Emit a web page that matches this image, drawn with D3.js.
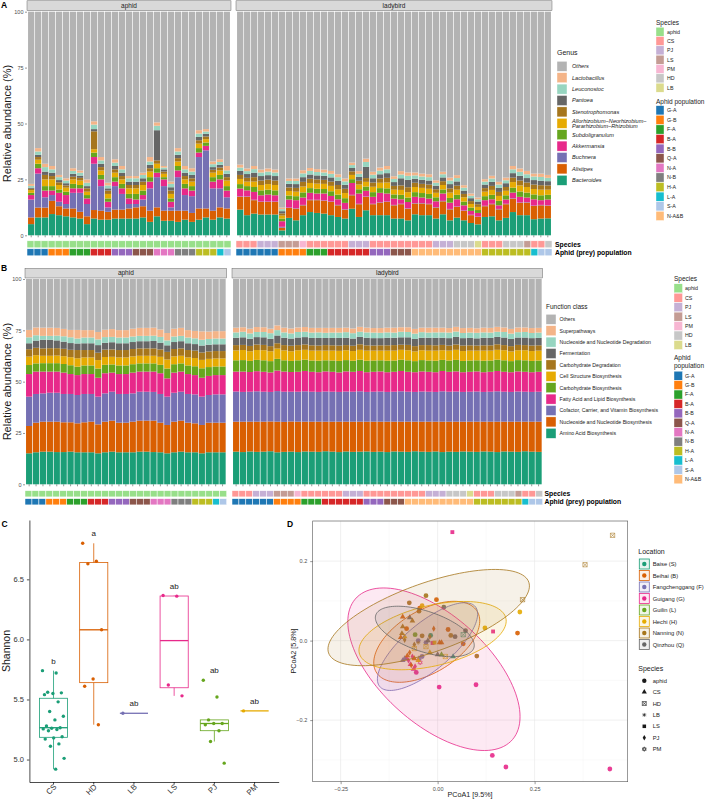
<!DOCTYPE html>
<html>
<head>
<meta charset="utf-8">
<script src="https://cdn.jsdelivr.net/npm/d3@7"></script>
<style>
  body { margin: 0; background: #fff; }
  text { font-family: "Liberation Sans", Arial, sans-serif; }
</style>
</head>
<body>
<svg id="chart" width="709" height="799"></svg>
<script>
// ---------- samples ----------
const aphidPopulation = ["G-A","G-A","G-A","G-B","G-B","G-B","F-A","F-A","F-A","B-A","B-A","B-A","B-B","B-B","B-B",
  "Q-A","Q-A","Q-A","N-A","N-A","N-A","N-B","N-B","N-B","H-A","H-A","H-A","L-A","S-A"];
const ladybirdPopulation = ["G-A","G-A","G-A","G-A","G-A","G-A","G-B","G-B","G-B","G-B","F-A","F-A","F-A",
  "B-A","B-A","B-A","B-A","B-A","B-A","B-B","B-B","B-B","Q-A","Q-A","Q-A",
  "N-A&B","N-A&B","N-A&B","N-A&B","N-A&B","N-A&B","N-A&B","N-A&B","N-A&B","N-A&B",
  "H-A","H-A","H-A","H-A","H-A","H-A","H-A","L-A","S-A","S-A"];
const ladybirdSpecies = ["CS","CS","CS","PJ","PJ","PJ","LS","LS","LS","PM",
  "CS","CS","CS","CS","CS","CS","PJ","PJ","PJ",
  "CS","CS","CS","CS","CS","CS","CS","CS","CS",
  "PJ","PJ","PJ","HD","HD","HD","LB",
  "CS","CS","CS","HD","HD","HD","LS","CS","CS","HD"];

const speciesNames = ["aphid","CS","PJ","LS","PM","HD","LB"];
const speciesColors = ["#98df8a","#ff9896","#c5b0d5","#c49c94","#f7b6d2","#c7c7c7","#dbdb8d"];
const populationNames = ["G-A","G-B","F-A","B-A","B-B","Q-A","N-A","N-B","H-A","L-A","S-A","N-A&B"];
const populationColors = ["#1f77b4","#ff7f0e","#2ca02c","#d62728","#9467bd","#8c564b","#e377c2","#7f7f7f","#bcbd22","#17becf","#aec7e8","#ffbb78"];

// ---------- panel A: genus relative abundance (%), 29 aphids then 45 ladybirds ----------
const bacteroides = [5,8,8,9.5,9,8.5,8,7.5,5,7.5,7,7,7.5,7.5,7.5,7.5,8,6,8.5,6.5,6.5,6,7,6,7,8,7,8,7.5,
  11.5,9,9.7,9.3,9.3,9.3,2.2,7.8,6.7,9,10.4,10,9.7,9,8.2,7.5,11.9,8.2,11.2,9,9,9,7.5,7.5,6.7,9.4,9,9,7.5,9.4,6.7,7.9,6.7,5.5,4.9,8.2,8.5,6.7,7.8,10.4,9,9,7.2,7.5,7.6];
const alistipes = [3,4.4,4.4,5.9,4,3.5,4,3,3.5,3.8,4,3.5,4,4,4.5,5,5,5,4,4.5,4.5,5,4,4,5,4,4,4.5,4.5,
  5.7,8.2,6,5.6,5.6,5.6,1.2,4.4,5.2,4.4,5.3,5.7,5.7,5.9,5.2,4,6,5.7,6,4.9,5.6,5.9,5.9,6.4,5.2,4.8,5.2,4.9,4.9,5.8,4.9,4.8,4.2,3.5,3.3,4.8,5.4,4.9,6.1,6,5.5,5.6,5.9,5.9,5.6];
const buchnera = [8,15.2,4.6,2.6,2,2,7,8.5,5.5,20.7,11,2,10.5,7,2,1.5,3,10,13.5,11,1.5,15,7,7.5,23,26,10,8.5,5,
  0.2,0.2,0.2,0.2,0.2,0.2,0.4,0.2,0.2,0.2,0.2,0.2,0.2,0.2,0.2,0.2,0.2,0.2,0.2,0.2,0.2,0.2,0.2,0.2,0.2,0.2,0.2,0.2,0.2,0.2,0.2,0.2,0.2,0.2,0.2,0.2,0.2,0.2,0.2,0.2,0.2,0.2,0.2,0.2,0.2];
const akkermansia = [2,2.4,3,2,4,4,2,2,2.5,3,3,2.5,2,2.5,2.5,2,2,3,2,3,2.5,3,3,2.5,2,2,3,4,3,
  3.5,2.7,3.5,2.8,3.1,2.8,2.5,3.6,3.6,3.3,3.1,2.8,3.1,2.5,2.5,2.8,5.3,4.6,2.5,3.1,4.2,3.6,2.8,2.0,2.8,2.8,2.5,2.3,2.6,3.3,2.8,3.2,2.3,1.7,1.6,2.5,2.0,1.6,1.9,2.5,2.5,2.1,2.8,2.1,2.6];
const subdoligranulum = [1,2,2,2,1.5,1.5,2,1.5,1.5,2,2,1.5,2,2,2,2.5,2,2,2,1,1.5,2,2,2,2,1.5,2,2,2,
  2.0,1.9,2.2,2.2,2.2,2.2,1.2,1.8,1.8,2.3,2.1,2.1,2.0,2.1,2.1,2.1,1.7,1.9,1.9,2.1,2.1,2.3,1.9,2.0,2.0,2.1,2.0,2.1,1.8,1.8,2.1,2.0,1.7,1.5,1.3,1.8,2.0,2.0,1.9,2.2,2.4,2.2,2.2,2.2,2.1];
const allorhizobium = [1.2,1.8,3,3,2,1.8,2,2,1.5,1.5,2,2,2,2,2.5,2.5,2.5,2.5,2,1.5,2,2,2,2,2,1.5,2,2,2.5,
  2.3,2.0,2.4,2.4,2.5,2.4,1.3,2.0,2.0,2.6,2.3,2.3,2.3,2.4,2.4,2.3,1.9,2.1,2.1,2.4,2.4,2.6,2.1,2.2,2.4,2.3,2.3,2.3,2.0,2.0,2.4,2.3,1.9,1.6,1.4,2.0,2.2,2.2,2.0,2.5,2.7,2.5,2.4,2.5,2.3];
const stenotrophomonas = [0.6,1.2,2,1.5,1.2,1,1.2,1.2,1.5,8,1.5,1.5,1.5,1.5,1.5,1.5,1.5,1.5,1.5,1,1.5,1.5,1.5,1.5,1.5,1.2,1.3,1.3,1.5,
  1.8,1.7,2.0,2.0,2.0,2.0,1.0,1.6,1.7,2.1,1.9,1.9,1.8,1.9,1.9,1.9,1.6,1.7,1.7,1.9,1.9,2.1,1.7,2.0,2.2,1.9,1.8,1.9,1.6,1.7,1.9,1.8,1.5,1.3,1.2,1.6,1.8,1.8,1.7,2.0,2.2,2.0,2.0,2.0,1.9];
const pantoea = [0.5,1,1.5,1.5,1,1,1.3,1,1,1,1.5,1,1.5,1.5,1.5,1.5,1.5,1.5,13.5,1,1.5,1.5,1.5,1.5,1.5,1.2,1.2,1.2,1.5,
  1.8,1.7,2.0,2.0,2.0,2.0,1.0,1.6,1.7,2.1,1.9,1.8,1.8,1.9,1.9,1.8,1.5,1.7,5.0,1.9,1.9,2.1,1.7,3.2,3.3,1.8,1.8,1.8,1.6,1.7,1.9,1.9,1.5,1.3,1.2,1.6,1.8,1.8,1.7,2.0,2.1,2.0,2.0,2.0,1.9];
const leuconostoc = [0.8,1.5,2,1.5,1.3,1.2,1.3,1.3,1.5,2,1.5,1.3,1.5,1.5,1.5,1.5,1.5,1.5,2,0.8,1.5,1.5,1.5,1.5,1.5,1,1.3,1.3,1.5,
  1.5,1.3,1.6,1.6,1.6,1.6,0.9,1.3,1.4,1.7,1.6,1.5,1.5,1.6,1.6,1.5,1.3,1.4,2.2,1.6,1.6,1.7,1.4,1.7,1.8,1.5,1.5,1.5,1.3,1.4,1.6,1.5,1.3,1.1,1.0,1.3,1.5,1.5,1.3,1.7,1.8,1.7,1.6,1.7,1.5];
const lactobacillus = [0.9,1.5,1.5,1.5,1,1,1.2,1,1.5,1.5,1.5,1.2,1.5,1.5,1,1,1,2,1.5,0.7,1,1.5,1.5,1.5,1.5,1.1,1.2,1.2,2,
  1.3,1.2,1.4,1.3,1.4,1.3,0.7,1.1,1.1,1.4,1.3,1.3,1.3,1.3,1.3,1.3,1.1,1.2,1.5,1.3,1.4,1.5,1.2,1.5,1.5,1.3,1.3,1.3,1.1,1.1,1.3,1.3,1.1,1.0,0.8,1.1,1.2,1.2,1.2,1.5,1.5,1.5,1.3,1.5,1.3];

// ---------- panel B: function class relative abundance (%) ----------
const aminoAcid = [15.1,15.6,15.9,15.9,15.7,15.7,15.9,15.6,15.6,15.6,15.1,15.6,15.9,15.6,15.6,15.6,15.9,15.9,15.7,15.6,15.1,15.6,15.9,15.6,15.6,15.1,15.6,15.6,15.6,
  15.9,15.7,16.0,15.8,15.9,16.1,15.6,15.8,15.9,15.7,16.0,15.9,15.8,16.1,15.9,15.7,16.0,15.8,15.9,16.0,15.8,15.9,15.7,16.0,15.9,15.8,16.1,15.9,15.8,16.0,15.7,15.9,15.8,16.0,15.9,15.8,16.0,15.9,15.7,16.0,15.9,15.8,16.1,15.9,15.8];
const nucleoBio = [13.3,14.4,14.6,14.6,14.8,14.5,14.3,14.1,14.6,14.9,14.1,14.9,15.1,14.4,14.4,14.9,15.1,15.1,15.3,14.4,13.8,14.9,15.1,14.4,14.1,13.8,14.4,14.4,14.4,
  14.6,14.8,14.5,14.7,14.6,14.5,14.9,14.6,14.7,14.8,14.5,14.6,14.7,14.4,14.6,14.8,14.5,14.7,14.6,14.5,14.7,14.6,14.8,14.5,14.6,14.7,14.4,14.6,14.7,14.5,14.8,14.6,14.7,14.5,14.6,14.7,14.5,14.6,14.8,14.5,14.6,14.7,14.4,14.6,14.7];
const cofactor = [14.3,14.0,13.8,14.1,14.1,13.8,13.8,13.8,13.8,13.5,13.5,13.8,14.1,14.0,14.0,13.8,14.1,14.1,14.0,14.0,13.8,14.1,14.1,14.0,14.1,13.8,13.5,13.8,13.8,
  14.7,14.5,14.6,14.8,14.6,14.4,14.9,14.7,14.5,14.6,14.8,14.6,14.5,14.7,14.6,14.5,14.7,14.6,14.8,14.5,14.6,14.7,14.5,14.6,14.8,14.6,14.5,14.7,14.6,14.5,14.8,14.6,14.7,14.5,14.6,14.7,14.5,14.6,14.8,14.6,14.5,14.7,14.6,14.5,14.6];
const fattyAcid = [11.0,10.9,10.6,10.3,10.3,10.4,9.7,9.7,9.7,9.7,9.2,9.8,9.3,9.7,9.7,10.1,9.8,9.8,9.9,10.1,8.9,9.8,9.8,9.7,9.4,9.2,9.3,9.4,9.4,
  9.7,9.9,9.6,9.8,9.7,9.5,10.0,9.8,9.6,9.7,9.9,9.7,9.6,9.8,9.7,9.5,9.8,9.7,9.9,9.6,9.7,9.8,9.6,9.7,9.9,9.7,9.6,9.8,9.7,9.6,9.9,9.7,9.8,9.6,9.7,9.8,9.6,9.7,9.9,9.7,9.6,9.8,9.7,9.6,9.7];
const carbBio = [4.4,4.0,4.1,4.1,4.1,4.2,4.3,4.1,4.2,4.2,4.5,4.1,4.0,4.2,4.2,4.1,4.0,4.0,4.0,4.1,4.8,4.1,4.0,4.2,4.3,4.6,4.3,4.2,4.2,
  5.5,5.6,5.4,5.5,5.6,5.5,5.7,5.5,5.4,5.6,5.5,5.5,5.6,5.4,5.5,5.6,5.5,5.4,5.5,5.6,5.5,5.4,5.6,5.5,5.5,5.6,5.4,5.5,5.5,5.6,5.4,5.5,5.6,5.5,5.5,5.4,5.6,5.5,5.5,5.6,5.4,5.5,5.6,5.5,5.5];
const cellStructure = [4.1,4.0,3.6,3.6,3.7,3.8,3.9,4.1,3.9,3.9,4.1,3.8,3.7,3.9,3.9,3.8,3.7,3.7,3.7,3.9,4.4,3.8,3.7,3.9,4.0,4.1,4.0,3.9,3.9,
  4.8,4.9,4.7,4.8,4.9,4.8,5.0,4.8,4.7,4.9,4.8,4.8,4.9,4.7,4.8,4.9,4.8,4.7,4.8,4.9,4.8,4.7,4.9,4.8,4.8,4.9,4.7,4.8,4.8,4.9,4.7,4.8,4.9,4.8,4.8,4.7,4.9,4.8,4.8,4.9,4.7,4.8,4.9,4.8,4.8];
const carbDegradation = [3.6,3.6,3.6,3.7,3.6,3.6,3.6,4.0,3.6,3.6,3.6,3.6,3.6,3.6,3.6,3.6,3.6,3.6,3.6,3.6,3.7,3.6,3.6,3.6,3.6,3.6,3.6,3.6,3.6,
  2.6,2.5,2.6,2.7,2.6,2.5,2.6,2.6,2.7,2.5,2.6,2.6,2.5,2.7,2.6,2.6,2.5,2.6,2.7,2.6,2.5,2.6,2.6,2.7,2.5,2.6,2.6,2.5,2.7,2.6,2.6,2.5,2.6,2.7,2.6,2.5,2.6,2.6,2.7,2.5,2.6,2.6,2.5,2.7,2.6];
const fermentation = [2.9,3.5,4.2,4.1,3.8,3.5,3.3,3.2,3.3,3.3,3.7,3.3,3.5,3.3,3.3,3.4,3.5,3.5,3.6,3.3,3.2,3.4,3.5,3.3,3.2,3.4,3.3,3.3,3.3,
  3.6,3.7,3.5,3.6,3.7,3.6,3.8,3.6,3.5,3.7,3.6,3.6,3.7,3.5,3.6,3.7,3.6,3.5,3.6,3.7,3.6,3.5,3.7,3.6,3.6,3.7,3.5,3.6,3.6,3.7,3.5,3.6,3.7,3.6,3.6,3.5,3.7,3.6,3.6,3.7,3.5,3.6,3.7,3.6,3.6];
const nucleoDegradation = [2.9,2.6,1.9,1.9,2.3,2.6,2.8,2.4,2.8,2.8,2.8,2.8,2.6,2.8,2.8,2.7,2.6,2.6,2.6,2.8,2.4,2.7,2.6,2.8,2.8,2.8,2.8,2.8,2.8,
  2.6,2.7,2.6,2.5,2.6,2.7,2.6,2.6,2.5,2.7,2.6,2.6,2.7,2.5,2.6,2.6,2.7,2.6,2.5,2.6,2.7,2.6,2.6,2.5,2.7,2.6,2.6,2.7,2.5,2.6,2.6,2.7,2.6,2.5,2.6,2.7,2.6,2.6,2.5,2.7,2.6,2.6,2.7,2.5,2.6];
const superpathways = [3.6,3.8,4.0,4.0,3.8,3.6,3.6,4.2,3.6,3.6,3.6,3.6,3.8,3.6,3.6,3.8,3.9,3.9,3.9,3.6,3.6,3.8,3.9,3.6,3.6,4.1,3.6,3.6,3.6,
  2.3,2.2,2.3,2.4,2.3,2.2,2.3,2.3,2.4,2.2,2.3,2.3,2.2,2.4,2.3,2.3,2.2,2.3,2.4,2.3,2.2,2.3,2.3,2.4,2.2,2.3,2.3,2.2,2.4,2.3,2.3,2.2,2.3,2.4,2.3,2.2,2.3,2.3,2.4,2.2,2.3,2.3,2.2,2.4,2.3];

// ---------- panel C: Shannon index per ladybird species ----------
const shannonSpecies = ["CS","HD","LB","LS","PJ","PM"];
const shannonCS = [5.74,5.72,5.56,5.555,5.55,5.54,5.48,5.40,5.36,5.33,5.28,5.265,5.26,5.255,5.25,5.24,5.19,5.18,5.17,5.13,5.11,5.01,4.92];
const shannonHD = [6.80,6.65,6.63,6.08,5.67,5.61,5.29];
const shannonLB = [5.385];
const shannonLS = [6.365,6.36,5.62,5.53];
const shannonPJ = [5.66,5.52,5.33,5.30,5.30,5.29,5.24,5.15,4.97];
const shannonPM = [5.405];
const shannonLetters = ["b","a","ab","ab","ab","ab"];

// ---------- panel D: PCoA scores, same sample order as panels A/B ----------
const pcoa1 = [0.004,0.099,-0.055,0.141,0.176,0.444,-0.030,-0.050,-0.040,0.206,-0.003,-0.046,0.027,0.066,-0.080,
  0.016,0.072,0.045,-0.030,-0.073,-0.048,0.101,0.034,-0.040,0.212,0.122,-0.040,-0.058,-0.018,
  -0.080,-0.070,-0.062,-0.075,-0.058,-0.065,0.038,0.143,-0.013,-0.045,-0.090,-0.085,-0.048,0.005,-0.078,-0.090,
  -0.068,-0.072,-0.010,-0.095,0.010,-0.060,0.000,-0.072,-0.025,-0.090,-0.092,-0.065,-0.085,-0.060,-0.020,
  0.451,0.380,0.219,-0.050,-0.085,-0.050,-0.020,-0.030,0.020,-0.060,-0.008,0.010,0.040,0.066];
const pcoa2 = [-0.117,-0.111,-0.080,-0.289,-0.318,-0.323,-0.005,0.000,-0.040,0.019,0.103,0.082,0.028,-0.008,0.030,
  0.084,0.025,0.010,0.113,0.095,0.074,-0.039,0.013,0.012,0.072,0.032,0.088,0.015,0.013,
  -0.045,-0.060,-0.072,-0.050,-0.065,-0.040,0.273,0.023,-0.006,-0.055,-0.050,-0.045,-0.045,-0.005,-0.038,0.060,
  -0.062,-0.030,0.030,0.008,-0.005,-0.045,-0.035,0.058,0.000,0.035,0.018,0.050,0.002,-0.010,0.010,
  0.265,0.191,0.103,-0.005,0.010,-0.050,-0.030,-0.015,-0.040,-0.020,-0.005,-0.035,-0.040,0.015];
const locationNames = ["Baise (S)","Beihai (B)","Fangchenggang (F)","Guigang (G)","Guilin (L)","Hechi (H)","Nanning (N)","Qinzhou (Q)"];
const locationColors = ["#1b9e77","#d95f02","#7570b3","#e7298a","#66a61e","#e6ab02","#a6761d","#666666"];
const locationCode = { S: "Baise (S)", B: "Beihai (B)", F: "Fangchenggang (F)", G: "Guigang (G)", L: "Guilin (L)", H: "Hechi (H)", N: "Nanning (N)", Q: "Qinzhou (Q)" };
const shapeLegendOrder = ["aphid","CS","HD","LB","LS","PJ","PM"];
// 95% ellipses: centre, semi-axes, rotation (deg)
const ellipseLocation = ["Beihai (B)","Fangchenggang (F)","Guigang (G)","Hechi (H)","Nanning (N)","Qinzhou (Q)"];
const ellipseCx = [-0.028,-0.026,-0.0095,-0.013,-0.023,-0.033];
const ellipseCy = [-0.003,-0.015,-0.072,0.0126,0.058,0.023];
const ellipseMajor = [0.151,0.159,0.269,0.194,0.273,0.133];
const ellipseMinor = [0.079,0.060,0.137,0.076,0.087,0.051];
const ellipseAngle = [30,39,-41,13,19,-18];

// ---------- build ----------
const samples = aphidPopulation.map(p => ({ group: "aphid", species: "aphid", population: p }))
  .concat(ladybirdPopulation.map((p, i) => ({ group: "ladybird", species: ladybirdSpecies[i], population: p })))
  .map((d, i) => ({ ...d, idx: i }));

const svg = d3.select("#chart");
const speciesColor = d3.scaleOrdinal(speciesNames, speciesColors);
const populationColor = d3.scaleOrdinal(populationNames, populationColors);
const locationColor = d3.scaleOrdinal(locationNames, locationColors);

function panelLabel(x, y, t) {
  svg.append("text").attr("x", x).attr("y", y).attr("font-size", 8.5).attr("font-weight", "bold").text(t);
}

function keyLegend(o) {
  const g = svg.append("g");
  o.title.forEach((t, i) => g.append("text").attr("x", o.x).attr("y", o.titleY + i * 8.5)
    .attr("font-size", o.titleSize).attr("fill", "#1a1a1a").text(t));
  o.items.forEach((it, i) => {
    const cy = o.y0 + i * o.step;
    g.append("rect").attr("x", o.x).attr("y", cy - o.h / 2).attr("width", o.w).attr("height", o.h)
      .attr("fill", it.color).attr("stroke", "#fff").attr("stroke-width", 0.4);
    const lines = [].concat(it.label);
    const t = g.append("text").attr("x", o.x + o.w + o.gap).attr("font-size", o.fs).attr("fill", "#1a1a1a")
      .attr("font-style", o.italic ? "italic" : null);
    lines.forEach((l, k) => t.append("tspan").attr("x", o.x + o.w + o.gap)
      .attr("y", cy + (k - (lines.length - 1) / 2) * o.fs * 0.95).attr("dy", "0.35em").text(l));
  });
}

function stackPanel(o) {
  const g = svg.append("g");
  const keys = o.layers.map(l => l.name).concat("Others");
  const color = d3.scaleOrdinal(keys, o.layers.map(l => l.color).concat("#b3b3b3"));
  const rows = samples.map(s => {
    const r = { idx: s.idx };
    let total = 0;
    o.layers.forEach(l => { r[l.name] = l.values[s.idx]; total += l.values[s.idx]; });
    r.Others = Math.max(0, 100 - total);
    return r;
  });
  const series = d3.stack().keys(keys)(rows);
  const y = d3.scaleLinear([0, 100], [o.bottom, o.top]);

  o.facets.forEach(f => {
    const ids = samples.filter(s => s.group === f.name).map(s => s.idx);
    const x = d3.scaleBand(ids, [f.x0, f.x1]).paddingInner(0.1).paddingOuter(0.15);
    const tile = d3.scaleBand(ids, [f.x0, f.x1]);
    g.append("rect").attr("x", f.x0).attr("y", o.stripTop).attr("width", f.x1 - f.x0)
      .attr("height", o.top - o.stripTop - 1).attr("fill", "#d9d9d9").attr("stroke", "#4d4d4d").attr("stroke-width", 0.4);
    g.append("text").attr("x", (f.x0 + f.x1) / 2).attr("y", (o.stripTop + o.top - 1) / 2).attr("dy", "0.35em")
      .attr("text-anchor", "middle").attr("font-size", 6.5).attr("fill", "#1a1a1a").text(f.name);
    series.forEach(s => {
      g.append("g").attr("fill", color(s.key)).selectAll("rect")
        .data(s.filter(d => ids.includes(d.data.idx))).join("rect")
        .attr("x", d => x(d.data.idx)).attr("width", x.bandwidth())
        .attr("y", d => y(d[1])).attr("height", d => Math.max(0, y(d[0]) - y(d[1])));
    });
    g.append("g").selectAll("line").data(ids).join("line")
      .attr("x1", d => x(d) + x.bandwidth() / 2).attr("x2", d => x(d) + x.bandwidth() / 2)
      .attr("y1", o.bottom).attr("y2", o.bottom + 2).attr("stroke", "#333").attr("stroke-width", 0.5);
    g.append("g").selectAll("rect").data(ids).join("rect")
      .attr("x", d => tile(d)).attr("width", tile.bandwidth()).attr("y", o.speciesY).attr("height", o.tileH)
      .attr("fill", d => speciesColor(samples[d].species)).attr("stroke", "#fff").attr("stroke-width", 0.5);
    g.append("g").selectAll("rect").data(ids).join("rect")
      .attr("x", d => tile(d)).attr("width", tile.bandwidth()).attr("y", o.popY).attr("height", o.tileH)
      .attr("fill", d => populationColor(samples[d].population)).attr("stroke", "#fff").attr("stroke-width", 0.5);
  });

  const ax = g.append("g").attr("transform", `translate(${o.facets[0].x0},0)`)
    .call(d3.axisLeft(y).tickValues([0, 25, 50, 75, 100]).tickSize(2).tickPadding(1.5));
  ax.select(".domain").remove();
  ax.selectAll("line").attr("stroke", "#333").attr("stroke-width", 0.5);
  ax.selectAll("text").attr("font-size", 5.5).attr("fill", "#4d4d4d").attr("font-family", "Liberation Sans, Arial, sans-serif");

  g.append("text").attr("transform", `translate(11,${(o.top + o.bottom) / 2}) rotate(-90)`)
    .attr("text-anchor", "middle").attr("font-size", 11).attr("fill", "#1a1a1a").text("Relative abundance (%)");
  g.append("text").attr("x", o.rowLabelX).attr("y", o.speciesY + o.tileH / 2).attr("dy", "0.35em")
    .attr("font-size", 6.8).attr("font-weight", "bold").text("Species");
  g.append("text").attr("x", o.rowLabelX).attr("y", o.popY + o.tileH / 2).attr("dy", "0.35em")
    .attr("font-size", 6.8).attr("font-weight", "bold").text("Aphid (prey) population");
}

// ---------- panel A ----------
panelLabel(1, 8, "A");
stackPanel({
  stripTop: 0.8, top: 11.7, bottom: 235.3,
  facets: [{ name: "aphid", x0: 27, x1: 231 }, { name: "ladybird", x0: 236, x1: 552 }],
  speciesY: 240.8, popY: 248.8, tileH: 7, rowLabelX: 555,
  layers: [
    { name: "Bacteroides", values: bacteroides, color: "#1b9e77" },
    { name: "Alistipes", values: alistipes, color: "#d95f02" },
    { name: "Buchnera", values: buchnera, color: "#7570b3" },
    { name: "Akkermansia", values: akkermansia, color: "#e7298a" },
    { name: "Subdoligranulum", values: subdoligranulum, color: "#66a61e" },
    { name: "Allorhizobium", values: allorhizobium, color: "#e6ab02" },
    { name: "Stenotrophomonas", values: stenotrophomonas, color: "#a6761d" },
    { name: "Pantoea", values: pantoea, color: "#666666" },
    { name: "Leuconostoc", values: leuconostoc, color: "#97d5c0" },
    { name: "Lactobacillus", values: lactobacillus, color: "#f4b488" }
  ]
});
keyLegend({
  x: 557, titleY: 55, title: ["Genus"], titleSize: 7, y0: 66.3, step: 11.4, w: 10, h: 10, gap: 5, fs: 5.6, italic: true,
  items: [
    { label: "Others", color: "#b3b3b3" }, { label: "Lactobacillus", color: "#f4b488" },
    { label: "Leuconostoc", color: "#97d5c0" }, { label: "Pantoea", color: "#666666" },
    { label: "Stenotrophomonas", color: "#a6761d" },
    { label: ["Allorhizobium−Neorhizobium−", "Pararhizobium−Rhizobium"], color: "#e6ab02" },
    { label: "Subdoligranulum", color: "#66a61e" }, { label: "Akkermansia", color: "#e7298a" },
    { label: "Buchnera", color: "#7570b3" }, { label: "Alistipes", color: "#d95f02" },
    { label: "Bacteroides", color: "#1b9e77" }
  ]
});
keyLegend({ x: 656, titleY: 24.5, title: ["Species"], titleSize: 6.5, y0: 31.7, step: 9.33, w: 8, h: 9, gap: 3, fs: 5.3,
  items: speciesNames.map((s, i) => ({ label: s, color: speciesColors[i] })) });
keyLegend({ x: 656, titleY: 103.5, title: ["Aphid population"], titleSize: 6.5, y0: 110.3, step: 9.6, w: 8, h: 9.2, gap: 3, fs: 5.3,
  items: populationNames.map((s, i) => ({ label: s, color: populationColors[i] })) });

// ---------- panel B ----------
panelLabel(1, 271, "B");
stackPanel({
  stripTop: 268.3, top: 279, bottom: 484.3,
  facets: [{ name: "aphid", x0: 25, x1: 226.7 }, { name: "ladybird", x0: 232, x1: 542.7 }],
  speciesY: 490.7, popY: 498.7, tileH: 6.2, rowLabelX: 544.5,
  layers: [
    { name: "Amino Acid Biosynthesis", values: aminoAcid, color: "#1b9e77" },
    { name: "Nucleoside and Nucleotide Biosynthesis", values: nucleoBio, color: "#d95f02" },
    { name: "Cofactor, Carrier, and Vitamin Biosynthesis", values: cofactor, color: "#7570b3" },
    { name: "Fatty Acid and Lipid Biosynthesis", values: fattyAcid, color: "#e7298a" },
    { name: "Carbohydrate Biosynthesis", values: carbBio, color: "#66a61e" },
    { name: "Cell Structure Biosynthesis", values: cellStructure, color: "#e6ab02" },
    { name: "Carbohydrate Degradation", values: carbDegradation, color: "#a6761d" },
    { name: "Fermentation", values: fermentation, color: "#666666" },
    { name: "Nucleoside and Nucleotide Degradation", values: nucleoDegradation, color: "#97d5c0" },
    { name: "Superpathways", values: superpathways, color: "#f4b488" }
  ]
});
keyLegend({
  x: 546, titleY: 309, title: ["Function class"], titleSize: 6.5, y0: 319.3, step: 11.4, w: 10, h: 10, gap: 3.5, fs: 5.2,
  items: [
    { label: "Others", color: "#b3b3b3" }, { label: "Superpathways", color: "#f4b488" },
    { label: "Nucleoside and Nucleotide Degradation", color: "#97d5c0" }, { label: "Fermentation", color: "#666666" },
    { label: "Carbohydrate Degradation", color: "#a6761d" }, { label: "Cell Structure Biosynthesis", color: "#e6ab02" },
    { label: "Carbohydrate Biosynthesis", color: "#66a61e" }, { label: "Fatty Acid and Lipid Biosynthesis", color: "#e7298a" },
    { label: "Cofactor, Carrier, and Vitamin Biosynthesis", color: "#7570b3" },
    { label: "Nucleoside and Nucleotide Biosynthesis", color: "#d95f02" }, { label: "Amino Acid Biosynthesis", color: "#1b9e77" }
  ]
});
keyLegend({ x: 674, titleY: 281, title: ["Species"], titleSize: 6.5, y0: 288.3, step: 9.45, w: 8.5, h: 9, gap: 2.5, fs: 5.3,
  items: speciesNames.map((s, i) => ({ label: s, color: speciesColors[i] })) });
keyLegend({ x: 674, titleY: 359.5, title: ["Aphid", "population"], titleSize: 6.5, y0: 375.7, step: 9.42, w: 8.5, h: 9, gap: 2.5, fs: 5.3,
  items: populationNames.map((s, i) => ({ label: s, color: populationColors[i] })) });

// ---------- panel C ----------
panelLabel(1.5, 527, "C");
const shannonValues = [shannonCS, shannonHD, shannonLB, shannonLS, shannonPJ, shannonPM];
const shannonColor = d3.scaleOrdinal(shannonSpecies, ["#1b9e77","#d95f02","#7570b3","#e7298a","#66a61e","#e6ab02"]);
const xC = d3.scaleBand(shannonSpecies, [29.4, 278.7]).paddingOuter(0.1);
const yC = d3.scaleLinear([4.813, 6.994], [782, 520]);
const gC = svg.append("g");
shannonSpecies.forEach((sp, k) => {
  const vals = shannonValues[k].slice().sort(d3.ascending);
  const q1 = d3.quantile(vals, 0.25), med = d3.quantile(vals, 0.5), q3 = d3.quantile(vals, 0.75);
  const iqr = q3 - q1;
  const lo = d3.min(vals.filter(v => v >= q1 - 1.5 * iqr));
  const hi = d3.max(vals.filter(v => v <= q3 + 1.5 * iqr));
  const cx = xC(sp) + xC.bandwidth() / 2, bw = xC.bandwidth() * 0.7;
  const c = shannonColor(sp);
  const bg = gC.append("g").attr("stroke", c).attr("fill", "none");
  bg.append("line").attr("x1", cx).attr("x2", cx).attr("y1", yC(q3)).attr("y2", yC(hi)).attr("stroke-width", 0.8);
  bg.append("line").attr("x1", cx).attr("x2", cx).attr("y1", yC(q1)).attr("y2", yC(lo)).attr("stroke-width", 0.8);
  bg.append("rect").attr("x", cx - bw / 2).attr("width", bw).attr("y", yC(q3))
    .attr("height", Math.max(0, yC(q1) - yC(q3))).attr("stroke-width", 0.8);
  bg.append("line").attr("x1", cx - bw / 2).attr("x2", cx + bw / 2).attr("y1", yC(med)).attr("y2", yC(med)).attr("stroke-width", 1.3);
  gC.append("g").attr("fill", c).selectAll("circle").data(shannonValues[k]).join("circle")
    .attr("cx", (d, i) => cx + (((i * 0.618034) % 1) - 0.5) * 0.55 * xC.bandwidth())
    .attr("cy", d => yC(d)).attr("r", 1.7);
  gC.append("text").attr("x", cx).attr("y", yC(d3.max(vals)) - 7).attr("text-anchor", "middle")
    .attr("font-size", 8).attr("fill", "#1a1a1a").text(shannonLetters[k]);
});
const axYC = gC.append("g").attr("transform", "translate(29.4,0)")
  .call(d3.axisLeft(yC).tickValues([5, 5.5, 6, 6.5]).tickFormat(d3.format(".1f")).tickSize(2.5).tickSizeOuter(0));
const axXC = gC.append("g").attr("transform", "translate(0,782)")
  .call(d3.axisBottom(xC).tickSize(2.5).tickSizeOuter(0));
[axYC, axXC].forEach(a => {
  a.selectAll("path, line").attr("stroke", "#000").attr("stroke-width", 0.7);
  a.selectAll("text").attr("font-family", "Liberation Sans, Arial, sans-serif").attr("fill", "#333");
});
axYC.selectAll("text").attr("font-size", 7.5);
axXC.selectAll("text").attr("font-size", 7.8).attr("text-anchor", "end").attr("y", 0).attr("dy", "0.35em")
  .attr("transform", "translate(1.5,3.5) rotate(-45)");
gC.append("text").attr("transform", "translate(10,651) rotate(-90)").attr("text-anchor", "middle")
  .attr("font-size", 10.5).attr("fill", "#1a1a1a").text("Shannon");

// ---------- panel D ----------
panelLabel(287, 527, "D");
const xD = d3.scaleLinear([-0.322, 0.49], [312.7, 627.7]);
const yD = d3.scaleLinear([-0.355, 0.301], [781.7, 521]);
const gD = svg.append("g");
gD.append("rect").attr("x", 312.7).attr("y", 521).attr("width", 315).attr("height", 260.7).attr("fill", "#fff");
gD.append("g").selectAll("line").data([-0.125, 0.125, 0.375]).join("line")
  .attr("x1", d => xD(d)).attr("x2", d => xD(d)).attr("y1", 521).attr("y2", 781.7).attr("stroke", "#f2f2f2").attr("stroke-width", 0.4);
gD.append("g").selectAll("line").data([-0.3, -0.1, 0.1, 0.3]).join("line")
  .attr("y1", d => yD(d)).attr("y2", d => yD(d)).attr("x1", 312.7).attr("x2", 627.7).attr("stroke", "#f2f2f2").attr("stroke-width", 0.4);
gD.append("g").selectAll("line").data([-0.25, 0, 0.25]).join("line")
  .attr("x1", d => xD(d)).attr("x2", d => xD(d)).attr("y1", 521).attr("y2", 781.7).attr("stroke", "#e6e6e6").attr("stroke-width", 0.6);
gD.append("g").selectAll("line").data([-0.2, 0, 0.2]).join("line")
  .attr("y1", d => yD(d)).attr("y2", d => yD(d)).attr("x1", 312.7).attr("x2", 627.7).attr("stroke", "#e6e6e6").attr("stroke-width", 0.6);

const hollow = new Set(["HD", "LB", "PM"]);
function shapePath(sp, r) {
  if (sp === "aphid") return d3.symbol(d3.symbolCircle, Math.PI * r * r)();
  if (sp === "CS") return d3.symbol(d3.symbolTriangle, 2.4 * r * r)();
  if (sp === "LS") return d3.symbol(d3.symbolSquare, 2.6 * r * r)();
  if (sp === "PJ") return d3.symbol(d3.symbolDiamond, 1.9 * r * r)();
  const s = r * 0.9;
  if (sp === "HD") return `M${-s},${-s}H${s}V${s}H${-s}Z M${-s},${-s}L${s},${s} M${s},${-s}L${-s},${s}`;
  if (sp === "LB") return `M${-s},0H${s} M0,${-s}V${s} M${-s * 0.7},${-s * 0.7}L${s * 0.7},${s * 0.7} M${s * 0.7},${-s * 0.7}L${-s * 0.7},${s * 0.7}`;
  const h = s * 1.15;
  return `M0,${-h}L${h * 0.87},${h * 0.5}L${-h * 0.87},${h * 0.5}Z M0,${h}L${h * 0.87},${-h * 0.5}L${-h * 0.87},${-h * 0.5}Z`;
}

gD.append("g").selectAll("path").data(samples).join("path")
  .attr("transform", d => `translate(${xD(pcoa1[d.idx])},${yD(pcoa2[d.idx])})`)
  .attr("d", d => shapePath(d.species, 2.4))
  .attr("fill", d => hollow.has(d.species) ? "none" : locationColor(locationCode[d.population[0]]))
  .attr("stroke", d => hollow.has(d.species) ? locationColor(locationCode[d.population[0]]) : "none")
  .attr("stroke-width", 0.6).attr("opacity", 0.9);

ellipseLocation.forEach((loc, k) => {
  const rad = ellipseAngle[k] * Math.PI / 180;
  const pts = d3.range(0, 121).map(j => {
    const t = j / 120 * 2 * Math.PI;
    const ex = ellipseMajor[k] * Math.cos(t), ey = ellipseMinor[k] * Math.sin(t);
    return [xD(ellipseCx[k] + ex * Math.cos(rad) - ey * Math.sin(rad)), yD(ellipseCy[k] + ex * Math.sin(rad) + ey * Math.cos(rad))];
  });
  gD.append("path").attr("d", d3.line()(pts) + "Z")
    .attr("fill", locationColor(loc)).attr("fill-opacity", 0.1)
    .attr("stroke", locationColor(loc)).attr("stroke-width", 0.8);
});
gD.append("rect").attr("x", 312.7).attr("y", 521).attr("width", 315).attr("height", 260.7)
  .attr("fill", "none").attr("stroke", "#555").attr("stroke-width", 0.6);

const axXD = gD.append("g").attr("transform", "translate(0,781.7)")
  .call(d3.axisBottom(xD).tickValues([-0.25, 0, 0.25]).tickFormat(d3.format(".2f")).tickSize(2.5).tickSizeOuter(0));
const axYD = gD.append("g").attr("transform", "translate(312.7,0)")
  .call(d3.axisLeft(yD).tickValues([-0.2, 0, 0.2]).tickFormat(d3.format(".1f")).tickSize(2.5).tickSizeOuter(0));
[axXD, axYD].forEach(a => {
  a.select(".domain").remove();
  a.selectAll("line").attr("stroke", "#333").attr("stroke-width", 0.5);
  a.selectAll("text").attr("font-size", 5.5).attr("fill", "#4d4d4d").attr("font-family", "Liberation Sans, Arial, sans-serif");
});
axXD.selectAll("text").text(d => d3.format(".2f")(d).replace("-", "−"));
axYD.selectAll("text").text(d => d3.format(".1f")(d).replace("-", "−"));
gD.append("text").attr("x", 470).attr("y", 797).attr("text-anchor", "middle").attr("font-size", 7.2)
  .attr("fill", "#1a1a1a").text("PCoA1 [9.5%]");
gD.append("text").attr("transform", "translate(296,651) rotate(-90)").attr("text-anchor", "middle").attr("font-size", 7.2)
  .attr("fill", "#1a1a1a").text("PCoA2 [5.8%]");

// location legend
const legL = svg.append("g");
legL.append("text").attr("x", 638.3).attr("y", 554).attr("font-size", 7).attr("fill", "#1a1a1a").text("Location");
locationNames.forEach((loc, i) => {
  const cy = 564 + i * 11.5;
  legL.append("rect").attr("x", 639.3).attr("y", cy - 5).attr("width", 10).attr("height", 10)
    .attr("fill", locationColor(loc)).attr("fill-opacity", 0.1).attr("stroke", locationColor(loc)).attr("stroke-width", 0.8);
  legL.append("circle").attr("cx", 644.3).attr("cy", cy).attr("r", 2.2).attr("fill", locationColor(loc));
  legL.append("text").attr("x", 652.7).attr("y", cy).attr("dy", "0.35em").attr("font-size", 5.8).attr("fill", "#1a1a1a").text(loc);
});
legL.append("text").attr("x", 638.3).attr("y", 670.5).attr("font-size", 7).attr("fill", "#1a1a1a").text("Species");
shapeLegendOrder.forEach((sp, i) => {
  const cy = 680.7 + i * 11.4;
  legL.append("path").attr("transform", `translate(644.3,${cy})`).attr("d", shapePath(sp, 2.2))
    .attr("fill", hollow.has(sp) ? "none" : "#1a1a1a").attr("stroke", hollow.has(sp) ? "#1a1a1a" : "none").attr("stroke-width", 0.6);
  legL.append("text").attr("x", 652.7).attr("y", cy).attr("dy", "0.35em").attr("font-size", 5.8).attr("fill", "#1a1a1a").text(sp);
});
</script>
</body>
</html>
